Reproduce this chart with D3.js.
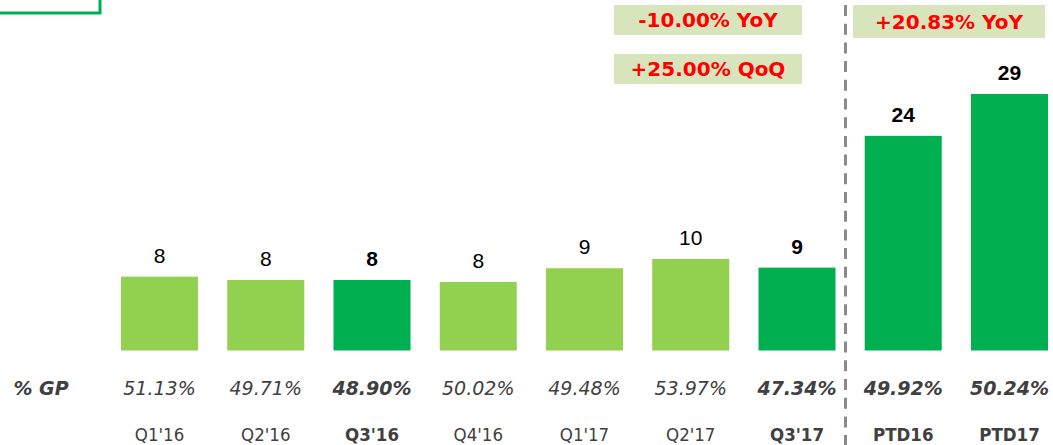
<!DOCTYPE html>
<html>
<head>
<meta charset="utf-8">
<script src="https://cdn.jsdelivr.net/npm/d3@7"></script>
<style>
  html, body { margin: 0; padding: 0; background: #fff; }
  svg { display: block; }
</style>
</head>
<body>
<div id="root"></div>
<script>
// data
var categories = ["Q1'16", "Q2'16", "Q3'16", "Q4'16", "Q1'17", "Q2'17", "Q3'17", "PTD16", "PTD17"]
var values = [8.35, 7.97, 7.97, 7.75, 9.3, 10.35, 9.37, 24.27, 29.0]
var gpLabels = ["51.13%", "49.71%", "48.90%", "50.02%", "49.48%", "53.97%", "47.34%", "49.92%", "50.24%"]
var highlighted = ["Q3'16", "Q3'17", "PTD16", "PTD17"]
var qoqNotes = ["-10.00% YoY", "+25.00% QoQ"]
var ptdNotes = ["+20.83% YoY"]

var width = 1053, height = 445
var svg = d3.select('#root').append('svg')
    .attr('width', width)
    .attr('height', height)

var x = d3.scaleBand()
    .domain(categories)
    .range([121, 1048])
    .paddingInner(0.275)
    .paddingOuter(0)
var y = d3.scaleLinear()
    .domain([0, 29])
    .range([350.5, 94])

var isHi = function (c) { return highlighted.indexOf(c) >= 0 }
var fmt = d3.format('.0f')

// cut-off box in the corner
svg.append('rect')
    .attr('x', -10).attr('y', -10)
    .attr('width', 110).attr('height', 23)
    .attr('fill', 'none')
    .attr('stroke', '#00b050')
    .attr('stroke-width', 3)

// bars
svg.append('g').selectAll('rect')
    .data(categories)
    .enter()
    .append('rect')
    .attr('x', function (d) { return x(d) })
    .attr('width', x.bandwidth())
    .attr('y', function (d, i) { return y(values[i]) })
    .attr('height', function (d, i) { return y(0) - y(values[i]) })
    .attr('fill', function (d) { return isHi(d) ? '#00b050' : '#92d050' })

// value labels
svg.append('g').selectAll('text')
    .data(categories)
    .enter()
    .append('text')
    .attr('x', function (d) { return x(d) + x.bandwidth() / 2 })
    .attr('y', function (d, i) { return y(values[i]) - 14 })
    .attr('text-anchor', 'middle')
    .style('font-family', '"Liberation Sans", Arial, sans-serif')
    .style('font-size', '21px')
    .style('font-weight', function (d) { return isHi(d) ? 'bold' : 'normal' })
    .attr('fill', '#000')
    .text(function (d, i) { return fmt(values[i]) })

// divider
var divX = x("Q3'17") + x.bandwidth() + 10
svg.append('line')
    .attr('x1', divX).attr('x2', divX)
    .attr('y1', 5).attr('y2', height)
    .attr('stroke', '#8a8a8a')
    .attr('stroke-width', 3)
    .attr('stroke-dasharray', '11,7.7')

// %GP row
var gp = svg.append('g')
    .style('font-family', '"DejaVu Sans", Verdana, sans-serif')
    .style('font-size', '19px')
    .style('font-style', 'italic')
    .attr('fill', '#404040')
gp.append('text')
    .attr('x', 41).attr('y', 395)
    .attr('text-anchor', 'middle')
    .style('font-weight', 'bold')
    .text('% GP')
gp.selectAll('text.gp')
    .data(categories)
    .enter()
    .append('text')
    .attr('class', 'gp')
    .attr('x', function (d) { return x(d) + x.bandwidth() / 2 })
    .attr('y', 395)
    .attr('text-anchor', 'middle')
    .style('font-weight', function (d) { return isHi(d) ? 'bold' : 'normal' })
    .text(function (d, i) { return gpLabels[i] })

// category axis
var axis = svg.append('g')
    .attr('transform', 'translate(0,428)')
    .call(d3.axisBottom(x).tickSize(0).tickPadding(0))
axis.select('.domain').remove()
axis.selectAll('text')
    .attr('dy', '0.71em')
    .style('font-family', '"DejaVu Sans", Verdana, sans-serif')
    .style('font-stretch', 'condensed')
    .style('font-size', '18.5px')
    .style('font-weight', function (d) { return isHi(d) ? 'bold' : 'normal' })
    .attr('fill', '#404040')

// annotation boxes
function note(x0, y0, w, h, txt) {
    var g = svg.append('g')
    g.append('rect')
        .attr('x', x0).attr('y', y0)
        .attr('width', w).attr('height', h)
        .attr('fill', '#d8e4bc')
    g.append('text')
        .attr('x', x0 + w / 2)
        .attr('y', y0 + h / 2 + 7)
        .attr('text-anchor', 'middle')
        .style('font-family', '"DejaVu Sans", Verdana, sans-serif')
        .style('font-size', '20px')
        .style('font-weight', 'bold')
        .attr('fill', '#ff0000')
        .text(txt)
}
qoqNotes.forEach(function (t, i) { note(614, 5 + i * 49, 188, 30, t) })
ptdNotes.forEach(function (t) { note(853, 5, 192, 33, t) })
</script>
</body>
</html>
